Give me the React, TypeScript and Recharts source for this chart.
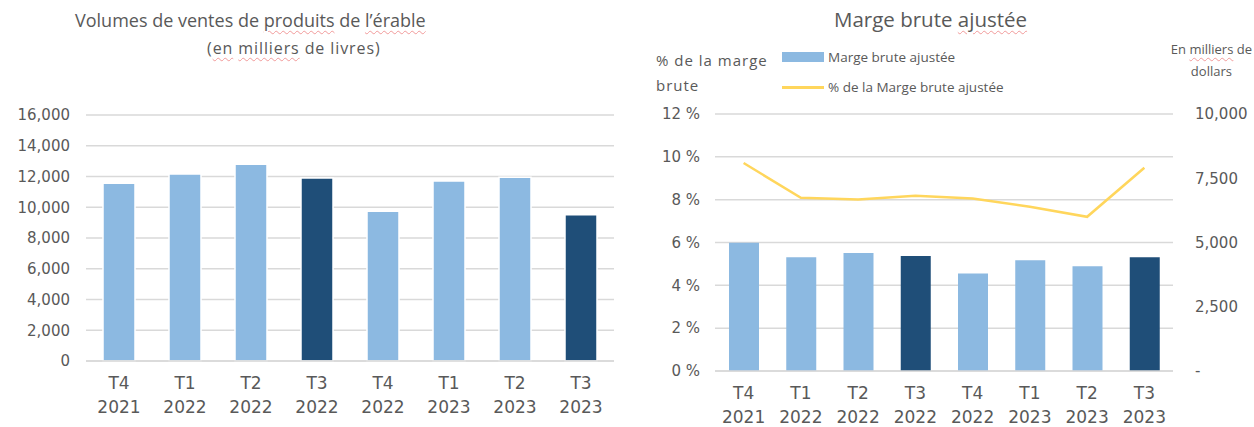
import React from "react";
import {
  BarChart,
  ComposedChart,
  Bar,
  Line,
  Cell,
  XAxis,
  YAxis,
  CartesianGrid,
} from "recharts";

const quarters = ["T4", "T1", "T2", "T3", "T4", "T1", "T2", "T3"];
const years = ["2021", "2022", "2022", "2022", "2022", "2023", "2023", "2023"];
const highlighted = [false, false, false, true, false, false, false, true];

// en milliers de livres
const volumes = [11560, 12170, 12800, 11910, 9740, 11710, 11950, 9520];
// en milliers de dollars
const margeBrute = [4990, 4430, 4590, 4470, 3790, 4310, 4080, 4430];
// % de la marge brute ajustée
const margePct = [9.71, 8.09, 8.01, 8.18, 8.05, 7.67, 7.2, 9.49];

const volumeTicks = [0, 2000, 4000, 6000, 8000, 10000, 12000, 14000, 16000];
const pctTicks = [0, 2, 4, 6, 8, 10, 12];
const amountTicks = [0, 2500, 5000, 7500, 10000];

const LIGHT = "#8cb9e1";
const DARK = "#1f4e78";
const YELLOW = "#ffd65c";
const GRID = "#d9d9d9";
const TEXT = "#595959";
const TICK_FONT = "'DejaVu Sans', sans-serif";
const WORD_FONT = "'Open Sans', sans-serif";

const data = quarters.map((q, i) => ({
  label: q + " " + years[i],
  quarter: q,
  year: years[i],
  volume: volumes[i],
  marge: margeBrute[i],
  pct: margePct[i],
}));

const squiggle: React.CSSProperties = {
  textDecoration: "underline wavy #f19a9a",
  textDecorationThickness: "1px",
  textUnderlineOffset: "3px",
};

function QuarterTick(props: any) {
  const { x, y, payload, first } = props;
  const d = data[payload.index];
  return (
    <text
      x={x}
      textAnchor="middle"
      fill={TEXT}
      fontFamily={TICK_FONT}
      fontSize={17}
    >
      <tspan x={x} y={y + first}>
        {d.quarter}
      </tspan>
      <tspan x={x} y={y + first + 24}>
        {d.year}
      </tspan>
    </text>
  );
}

function VolumeChart() {
  return (
    <div style={{ position: "absolute", left: 0, top: 0, width: 620, height: 427 }}>
      <div
        style={{
          position: "absolute",
          left: 75,
          top: 8,
          fontFamily: WORD_FONT,
          fontSize: 18,
          color: TEXT,
          whiteSpace: "nowrap",
        }}
      >
        Volumes de ventes de <span style={squiggle}>produits</span> de{" "}
        <span style={squiggle}>l’érable</span>
      </div>
      <div
        style={{
          position: "absolute",
          left: 207,
          top: 37,
          fontFamily: WORD_FONT,
          fontSize: 16,
          letterSpacing: "0.9px",
          color: TEXT,
          whiteSpace: "nowrap",
        }}
      >
        (<span style={squiggle}>en</span> <span style={squiggle}>milliers</span> de livres)
      </div>
      <BarChart
        width={620}
        height={427}
        data={data}
        margin={{ top: 115, right: 6, bottom: 0, left: 0 }}
        barSize={32}
      >
        <CartesianGrid vertical={false} stroke={GRID} strokeWidth={1.5} />
        <XAxis
          dataKey="label"
          height={66}
          axisLine={{ stroke: GRID, strokeWidth: 1.5 }}
          tickLine={false}
          interval={0}
          tick={<QuarterTick first={20} />}
        />
        <YAxis
          width={86}
          domain={[0, 16000]}
          ticks={volumeTicks}
          axisLine={false}
          tickLine={false}
          tickMargin={10}
          tick={{ fill: TEXT, fontSize: 15, fontFamily: TICK_FONT }}
          tickFormatter={(v: number) => v.toLocaleString("en-US")}
        />
        <Bar dataKey="volume" isAnimationActive={false} stroke="#ffffff" strokeWidth={1.5}>
          {data.map((_, i) => (
            <Cell key={i} fill={highlighted[i] ? DARK : LIGHT} />
          ))}
        </Bar>
      </BarChart>
    </div>
  );
}

function MargeChart() {
  return (
    <div style={{ position: "absolute", left: 620, top: 0, width: 634, height: 427 }}>
      <div
        style={{
          position: "absolute",
          left: 214,
          top: 5,
          fontFamily: WORD_FONT,
          fontSize: 20.5,
          color: TEXT,
          whiteSpace: "nowrap",
        }}
      >
        Marge brute <span style={squiggle}>ajustée</span>
      </div>
      <div
        style={{
          position: "absolute",
          left: 36,
          top: 48,
          fontFamily: WORD_FONT,
          fontSize: 15,
          letterSpacing: "1px",
          lineHeight: "25px",
          color: TEXT,
          whiteSpace: "nowrap",
        }}
      >
        % de la marge
        <br />
        brute
      </div>
      <div
        style={{
          position: "absolute",
          right: 2,
          top: 38,
          fontFamily: WORD_FONT,
          fontSize: 13,
          lineHeight: "22px",
          color: TEXT,
          textAlign: "center",
          whiteSpace: "nowrap",
        }}
      >
        En <span style={squiggle}>milliers</span> de
        <br />
        dollars
      </div>
      <div
        style={{
          position: "absolute",
          left: 162,
          top: 46,
          fontFamily: WORD_FONT,
          fontSize: 13.5,
          color: TEXT,
          whiteSpace: "nowrap",
        }}
      >
        <div style={{ display: "flex", alignItems: "center", height: 22 }}>
          <span style={{ width: 42, height: 10, background: LIGHT, marginRight: 4 }} />
          Marge brute ajustée
        </div>
        <div style={{ display: "flex", alignItems: "center", height: 22, marginTop: 8 }}>
          <span style={{ width: 42, height: 3, background: YELLOW, marginRight: 4 }} />
          % de la Marge brute ajustée
        </div>
      </div>
      <ComposedChart
        width={634}
        height={427}
        data={data}
        margin={{ top: 114, right: 0, bottom: 0, left: 0 }}
        barSize={30}
      >
        <CartesianGrid vertical={false} stroke={GRID} strokeWidth={1.5} yAxisId="pct" />
        <XAxis
          dataKey="label"
          height={56}
          axisLine={{ stroke: GRID, strokeWidth: 1.5 }}
          tickLine={false}
          interval={0}
          tick={<QuarterTick first={20} />}
        />
        <YAxis
          yAxisId="pct"
          orientation="left"
          width={95}
          domain={[0, 12]}
          ticks={pctTicks}
          axisLine={false}
          tickLine={false}
          tickMargin={9}
          tick={{ fill: TEXT, fontSize: 15, fontFamily: TICK_FONT }}
          tickFormatter={(v: number) => v + " %"}
        />
        <YAxis
          yAxisId="amt"
          orientation="right"
          width={81}
          domain={[0, 10000]}
          ticks={amountTicks}
          axisLine={false}
          tickLine={false}
          tickMargin={16}
          tick={{ fill: TEXT, fontSize: 15, fontFamily: TICK_FONT }}
          tickFormatter={(v: number) => (v === 0 ? "-" : v.toLocaleString("en-US"))}
        />
        <Bar dataKey="marge" yAxisId="amt" isAnimationActive={false}>
          {data.map((_, i) => (
            <Cell key={i} fill={highlighted[i] ? DARK : LIGHT} />
          ))}
        </Bar>
        <Line
          dataKey="pct"
          yAxisId="pct"
          type="linear"
          stroke={YELLOW}
          strokeWidth={2.5}
          dot={false}
          isAnimationActive={false}
        />
      </ComposedChart>
    </div>
  );
}

export default function App() {
  return (
    <div
      style={{
        position: "absolute",
        left: 0,
        top: 0,
        width: 1254,
        height: 427,
        background: "#ffffff",
        overflow: "hidden",
      }}
    >
      <VolumeChart />
      <MargeChart />
    </div>
  );
}
